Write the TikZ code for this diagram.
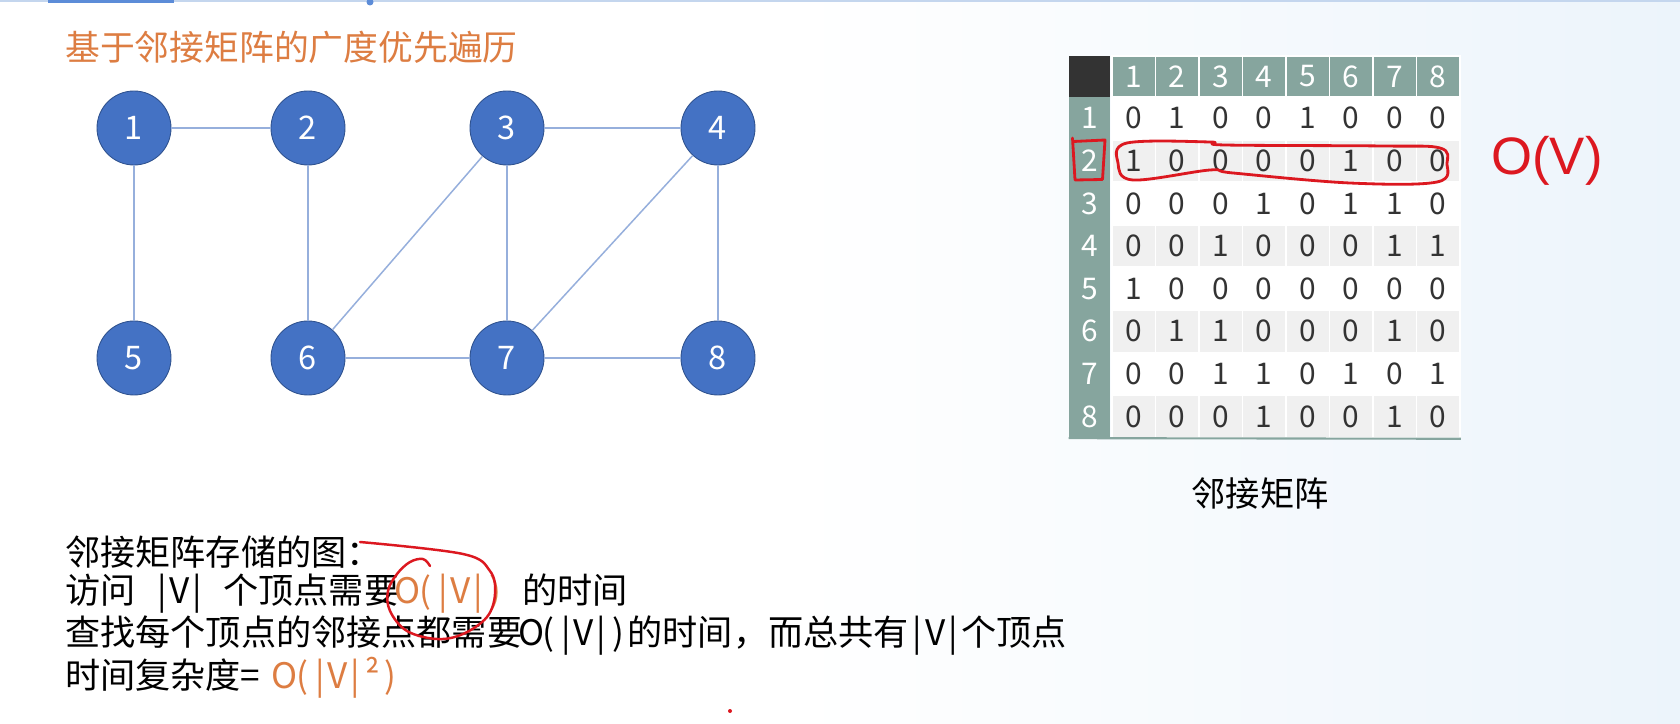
\documentclass[tikz,border=0pt]{standalone}
\usepackage{fontspec}
\setmainfont{Noto Sans CJK SC}
\newfontfamily\handfont{Liberation Sans}

\definecolor{nodeblue}{RGB}{68,114,196}
\definecolor{nodeline}{RGB}{47,82,143}
\definecolor{linkblue}{RGB}{150,175,220}
\definecolor{headteal}{RGB}{134,165,158}
\definecolor{cornergray}{RGB}{51,51,51}
\definecolor{rowgray}{RGB}{240,240,240}
\definecolor{textorange}{RGB}{221,125,66}
\definecolor{penred}{RGB}{220,24,32}
\definecolor{bgblue}{RGB}{236,244,251}
\definecolor{barblue}{RGB}{92,140,216}
\definecolor{barline}{RGB}{196,214,238}

% half-width Latin characters, as in the notes
\newcommand{\hw}[1]{\makebox[0.5em]{#1}}
\newcommand{\absV}{\hw{|}\hw{V}\hw{|}}
\newcommand{\orderV}{\hw{O}\hw{(}\absV\hw{)}}

\begin{document}
\begin{tikzpicture}[
    vertex/.style={
        circle,
        fill=nodeblue,
        draw=nodeline,
        line width=0.5pt,
        minimum size=1.48cm,
        inner sep=0pt,
        text=white,
        font=\fontsize{18.5}{20}\selectfont
    },
    link/.style={draw=linkblue, line width=0.85pt},
    cell/.style={
        rectangle,
        draw=white,
        line width=1.1pt,
        minimum width=0.87cm,
        minimum height=0.852cm,
        inner sep=0pt,
        text=black!80,
        font=\fontsize{17}{18}\selectfont
    },
    headcell/.style={cell, fill=headteal, text=white, minimum height=0.82cm},
    rowlabel/.style={
        rectangle,
        fill=headteal,
        minimum width=0.82cm,
        minimum height=0.852cm,
        inner sep=0pt,
        text=white,
        font=\fontsize{17}{18}\selectfont
    },
    textline/.style={anchor=west, inner sep=0pt, font=\fontsize{20}{24}\selectfont},
    pen/.style={draw=penred, line width=1.6pt, line cap=round, line join=round}
]

% Background
\fill[white] (0,0) rectangle (33.6,14.46);
\shade[left color=white, right color=bgblue] (16,0) rectangle (33.6,14.46);
\useasboundingbox (0,0) rectangle (33.6,14.46);

% Top bar
\draw[barline, line width=1.2pt] (0,14.44) -- (33.6,14.44);
\draw[barblue, line width=2.4pt] (0.96,14.44) -- (3.48,14.44);
\fill[barblue] (7.4,14.42) circle (0.07);

% Title
\node[textline, text=textorange, font=\fontsize{19.8}{24}\selectfont] (title) at (1.3,13.52) {基于邻接矩阵的广度优先遍历};

% Graph
\node[vertex] (v1) at (2.68,11.9) {1};
\node[vertex] (v2) at (6.16,11.9) {2};
\node[vertex] (v3) at (10.14,11.9) {3};
\node[vertex] (v4) at (14.36,11.9) {4};
\node[vertex] (v5) at (2.68,7.3) {5};
\node[vertex] (v6) at (6.16,7.3) {6};
\node[vertex] (v7) at (10.14,7.3) {7};
\node[vertex] (v8) at (14.36,7.3) {8};

\draw[link] (v1) -- (v2);
\draw[link] (v1) -- (v5);
\draw[link] (v2) -- (v6);
\draw[link] (v3) -- (v4);
\draw[link] (v3) -- (v6);
\draw[link] (v3) -- (v7);
\draw[link] (v4) -- (v7);
\draw[link] (v4) -- (v8);
\draw[link] (v6) -- (v7);
\draw[link] (v7) -- (v8);

% Adjacency matrix
\node[rectangle, fill=cornergray, minimum width=0.82cm, minimum height=0.82cm] (corner) at (21.79,12.93) {};
\foreach \c in {1,...,8}
    \node[headcell] (h\c) at ({21.805+0.87*\c},12.93) {\c};

\foreach \r/\bg/\vals in {
    1/white/{0,1,0,0,1,0,0,0},
    2/rowgray/{1,0,0,0,0,1,0,0},
    3/white/{0,0,0,1,0,1,1,0},
    4/rowgray/{0,0,1,0,0,0,1,1},
    5/white/{1,0,0,0,0,0,0,0},
    6/rowgray/{0,1,1,0,0,0,1,0},
    7/white/{0,0,1,1,0,1,0,1},
    8/rowgray/{0,0,0,1,0,0,1,0}} {
    \node[rowlabel] (r\r) at (21.79,{12.946-0.852*\r}) {\r};
    \foreach \v [count=\c] in \vals
        \node[cell, fill=\bg] (m\r-\c) at ({21.805+0.87*\c},{12.946-0.852*\r}) {\v};
}
\draw[headteal, line width=1.2pt] (r8.south west) -- (m8-8.south east);

\node[font=\fontsize{19.5}{22}\selectfont] (caption) at (25.2,4.6) {邻接矩阵};

% Pen marks on the matrix
\draw[pen] (21.47,11.63) -- (22.1,11.66) -- (22.05,10.87) -- (21.5,10.86) -- (21.45,11.7);
\draw[pen] plot[smooth cycle, tension=0.6] coordinates {
    (22.54,11.6) (24.2,11.62) (24.5,11.56) (27.66,11.54) (28.8,11.5) (28.94,11.2)
    (28.74,10.82) (27.0,10.8) (24.66,11.0) (24.2,11.06) (22.66,10.86) (22.36,11.2)};
\node[text=penred, font=\handfont\fontsize{30}{30}\selectfont] (bigO) at (30.94,11.24) {O(V)};

% Notes
\node[textline] (store) at (1.3,3.42) {邻接矩阵存储的图：};
\node[textline] (visit) at (1.3,2.58) {访问\hspace{0.5em}\absV\hspace{0.5em}个顶点需要\textcolor{textorange}{\orderV}\hspace{0.5em}的时间};
\node[textline] (search) at (1.3,1.74) {查找每个顶点的邻接点都需要\orderV 的时间，而总共有\absV 个顶点};
\node[textline] (cost) at (1.3,0.9) {时间复杂度\hw{=}\hspace{0.5em}\textcolor{textorange}{\hw{O}\hw{(}\absV\hw{²}\hw{)}}};

% Pen mark on the notes
\draw[pen, line width=1.4pt] plot[smooth, tension=0.6] coordinates {
    (7.2,3.62) (9.26,3.38) (9.8,3.04) (9.9,2.58) (9.74,2.12) (9.26,1.78) (8.74,1.68)
    (8.14,1.84) (7.8,2.24) (7.76,2.64) (7.94,2.98) (8.2,3.22) (8.46,3.28) (8.6,3.14)};
\fill[penred] (14.6,0.24) circle (0.04);

\end{tikzpicture}
\end{document}
